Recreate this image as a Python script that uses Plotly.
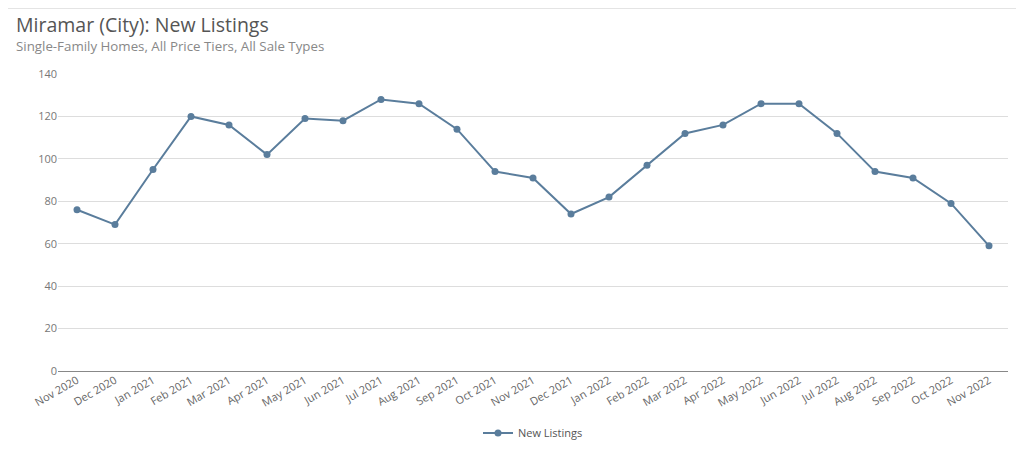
import plotly.graph_objects as go

months = ["Nov 2020", "Dec 2020", "Jan 2021", "Feb 2021", "Mar 2021", "Apr 2021", "May 2021",
          "Jun 2021", "Jul 2021", "Aug 2021", "Sep 2021", "Oct 2021", "Nov 2021", "Dec 2021",
          "Jan 2022", "Feb 2022", "Mar 2022", "Apr 2022", "May 2022", "Jun 2022", "Jul 2022",
          "Aug 2022", "Sep 2022", "Oct 2022", "Nov 2022"]
new_listings = [76, 69, 95, 120, 116, 102, 119, 118, 128, 126, 114, 94, 91, 74,
                82, 97, 112, 116, 126, 126, 112, 94, 91, 79, 59]
y_ticks = [0, 20, 40, 60, 80, 100, 120, 140]

FONT = "Open Sans"
COLOR = "#5a7d9c"

PW, PH = 950, 297
L, T = 50, 66

fig = go.Figure()
fig.add_trace(go.Scatter(
    x=months, y=new_listings, mode="lines+markers", name="New Listings",
    line=dict(color=COLOR, width=2),
    marker=dict(color=COLOR, size=7),
))

fig.update_layout(
    width=1016, height=461,
    margin=dict(l=L, r=16, t=T, b=98),
    paper_bgcolor="white", plot_bgcolor="white",
    font=dict(family=FONT, color="#666", size=11),
    showlegend=True,
    legend=dict(orientation="h", x=0.5, xanchor="center", y=-62 / PH, yanchor="middle",
                font=dict(size=11, color="#555")),
    xaxis=dict(type="category", tickangle=-30, showgrid=False, showline=False,
               ticks="", tickfont=dict(size=11, color="#666"), range=[-0.5, 24.5]),
    yaxis=dict(range=[0, 140], tickvals=y_ticks, showgrid=True, gridcolor="#dddddd",
               gridwidth=1, zeroline=True, zerolinecolor="#888", zerolinewidth=1,
               ticks="", tickfont=dict(size=11, color="#777"), showline=False),
    annotations=[
        dict(text="Miramar (City): New Listings", xref="paper", yref="paper",
             x=-44 / PW, y=1 + 50 / PH, xanchor="left", yanchor="middle", showarrow=False,
             font=dict(size=19.5, color="#555", family=FONT)),
        dict(text="Single-Family Homes, All Price Tiers, All Sale Types", xref="paper", yref="paper",
             x=-44 / PW, y=1 + 28 / PH, xanchor="left", yanchor="middle", showarrow=False,
             font=dict(size=13.3, color="#888", family=FONT)),
    ],
    shapes=[
        dict(type="line", xref="paper", yref="paper", x0=-L / PW, x1=1 + 16 / PW,
             y0=1 + (T - 0.5) / PH, y1=1 + (T - 0.5) / PH, line=dict(color="#e4e4e4", width=1)),
        dict(type="line", xref="paper", yref="paper", x0=1 + 14.5 / PW, x1=1 + 14.5 / PW,
             y0=-98 / PH, y1=1 + T / PH, line=dict(color="#eeeeee", width=1)),
    ],
)

fig.write_html("out.html")
